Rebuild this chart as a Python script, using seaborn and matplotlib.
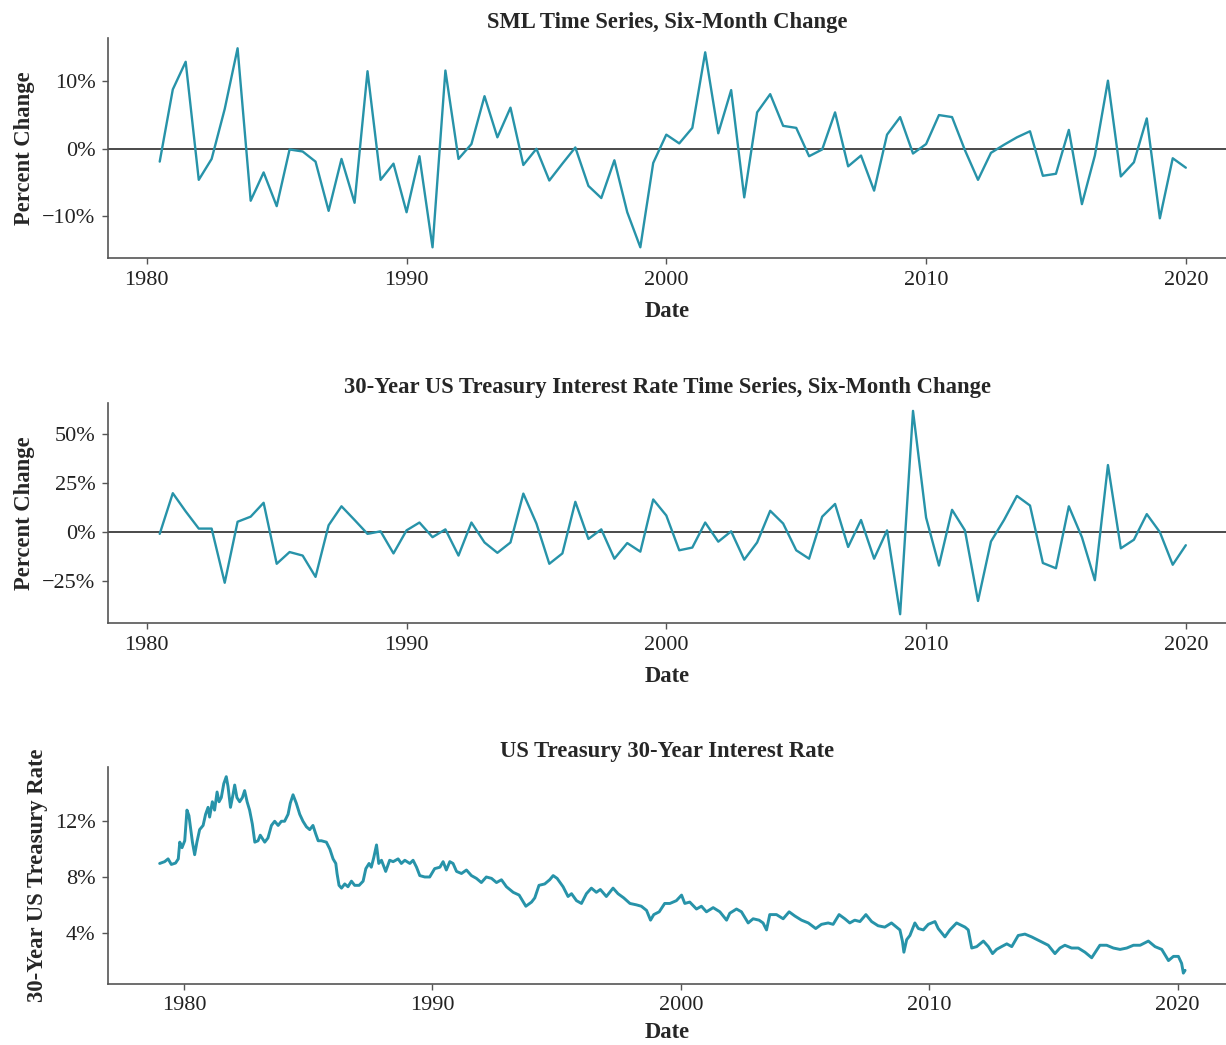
import matplotlib
matplotlib.use("Agg")
import matplotlib.pyplot as plt
import matplotlib.dates as mdates
from matplotlib.ticker import PercentFormatter, FixedLocator
import numpy as np
import pandas as pd
import seaborn as sns

# Semi-annual observation dates for the six-month change series
half_year_dates = pd.date_range("1980-07-01", "2020-01-01", freq="6MS")

# Six-month percent change of the SML factor
sml_change = [
    -1.9, 8.8, 12.9, -4.6, -1.5, 5.9, 14.9, -7.7, -3.5, -8.5,
    -0.1, -0.4, -1.9, -9.2, -1.5, -8.0, 11.5, -4.6, -2.2, -9.4,
    -1.1, -14.6, 11.6, -1.5, 0.7, 7.8, 1.7, 6.1, -2.4, 0.0,
    -4.7, -2.2, 0.2, -5.5, -7.3, -1.7, -9.4, -14.6, -2.1, 2.1,
    0.8, 3.1, 14.3, 2.3, 8.7, -7.2, 5.4, 8.1, 3.4, 3.1,
    -1.1, -0.1, 5.4, -2.6, -1.0, -6.2, 2.1, 4.7, -0.7, 0.7,
    5.0, 4.7, -0.2, -4.6, -0.6, 0.6, 1.7, 2.6, -4.0, -3.7,
    2.8, -8.2, -1.0, 10.1, -4.1, -2.0, 4.5, -10.3, -1.4, -2.8,
]

# Six-month percent change of the 30-year Treasury rate
treasury_change = [
    -0.9, 19.9, 10.6, 1.8, 1.8, -25.9, 5.3, 7.9, 15.0, -16.2,
    -10.2, -12.0, -22.9, 3.5, 13.2, 6.2, -0.9, 0.4, -10.9, 0.9,
    4.9, -2.6, 1.4, -12.0, 4.9, -5.3, -10.6, -5.3, 19.7, 4.4,
    -16.2, -10.9, 15.5, -3.5, 1.4, -13.6, -5.6, -10.0, 16.7, 8.5,
    -9.3, -7.9, 4.9, -4.9, 0.4, -14.1, -5.3, 10.9, 4.4, -9.3,
    -13.6, 7.9, 14.4, -7.6, 6.2, -13.6, 0.9, -42.0, 62.0, 7.4,
    -17.1, 11.4, 0.9, -35.2, -4.8, 6.2, 18.5, 13.6, -15.8, -18.5,
    13.2, -2.6, -24.6, 34.3, -8.3, -3.9, 9.2, 0.0, -16.7, -6.7,
]

# 30-year Treasury yield level (decimal year, percent)
rate_years = [
    1979.02, 1979.22, 1979.36, 1979.49, 1979.66, 1979.77, 1979.83, 1979.92, 1980.03, 1980.12,
    1980.20, 1980.34, 1980.43, 1980.52, 1980.63, 1980.77, 1980.87, 1980.97, 1981.03, 1981.14,
    1981.23, 1981.33, 1981.41, 1981.50, 1981.60, 1981.70, 1981.77, 1981.87, 1981.97, 1982.04,
    1982.13, 1982.24, 1982.35, 1982.44, 1982.54, 1982.64, 1982.75, 1982.85, 1982.98, 1983.07,
    1983.25, 1983.38, 1983.52, 1983.65, 1983.79, 1983.92, 1984.05, 1984.19, 1984.28, 1984.39,
    1984.52, 1984.66, 1984.79, 1984.93, 1985.06, 1985.19, 1985.30, 1985.40, 1985.53, 1985.73,
    1985.87, 1986.00, 1986.11, 1986.16, 1986.24, 1986.34, 1986.47, 1986.60, 1986.74, 1986.87,
    1987.05, 1987.21, 1987.32, 1987.45, 1987.54, 1987.64, 1987.75, 1987.84, 1987.95, 1988.12,
    1988.28, 1988.42, 1988.62, 1988.75, 1988.89, 1989.09, 1989.22, 1989.36, 1989.49, 1989.69,
    1989.89, 1990.09, 1990.30, 1990.43, 1990.56, 1990.70, 1990.83, 1990.97, 1991.17, 1991.37,
    1991.57, 1991.77, 1991.97, 1992.17, 1992.38, 1992.58, 1992.78, 1992.98, 1993.25, 1993.49,
    1993.76, 1993.99, 1994.12, 1994.29, 1994.52, 1994.72, 1994.86, 1995.02, 1995.26, 1995.46,
    1995.60, 1995.80, 1996.00, 1996.20, 1996.40, 1996.60, 1996.76, 1997.00, 1997.27, 1997.47,
    1997.70, 1997.95, 1998.21, 1998.41, 1998.62, 1998.78, 1998.91, 1999.13, 1999.35, 1999.56,
    1999.82, 2000.03, 2000.16, 2000.36, 2000.63, 2000.83, 2001.03, 2001.30, 2001.57, 2001.84,
    2001.97, 2002.24, 2002.44, 2002.71, 2002.91, 2003.15, 2003.31, 2003.45, 2003.58, 2003.85,
    2004.12, 2004.36, 2004.59, 2004.86, 2005.13, 2005.43, 2005.66, 2005.93, 2006.13, 2006.37,
    2006.60, 2006.80, 2007.00, 2007.21, 2007.45, 2007.68, 2007.94, 2008.21, 2008.48, 2008.68,
    2008.82, 2008.92, 2008.98, 2009.09, 2009.22, 2009.42, 2009.56, 2009.76, 2009.96, 2010.23,
    2010.36, 2010.63, 2010.83, 2011.10, 2011.44, 2011.57, 2011.71, 2011.91, 2012.18, 2012.38,
    2012.55, 2012.71, 2012.91, 2013.12, 2013.32, 2013.58, 2013.85, 2014.12, 2014.46, 2014.79,
    2015.06, 2015.26, 2015.46, 2015.73, 2016.00, 2016.27, 2016.54, 2016.87, 2017.14, 2017.41,
    2017.68, 2017.95, 2018.22, 2018.49, 2018.82, 2019.09, 2019.36, 2019.63, 2019.83, 2020.03,
    2020.16, 2020.23, 2020.30,
]
rate_values = [
    8.97, 9.1, 9.3, 8.9, 9.0, 9.3, 10.5, 10.1, 10.6, 12.8,
    12.4, 10.5, 9.6, 10.5, 11.4, 11.7, 12.5, 13.0, 12.3, 13.4,
    12.8, 14.1, 13.4, 13.7, 14.7, 15.2, 14.5, 13.0, 13.9, 14.6,
    13.7, 13.4, 13.7, 14.2, 13.4, 12.8, 11.8, 10.5, 10.6, 11.0,
    10.5, 10.8, 11.7, 12.0, 11.7, 12.0, 12.0, 12.5, 13.3, 13.9,
    13.3, 12.5, 12.0, 11.6, 11.4, 11.7, 11.1, 10.6, 10.6, 10.5,
    10.0, 9.3, 8.97, 8.25, 7.4, 7.2, 7.5, 7.3, 7.7, 7.4,
    7.4, 7.7, 8.6, 8.97, 8.7, 9.4, 10.3, 8.97, 9.2, 8.4,
    9.2, 9.1, 9.3, 8.97, 9.2, 8.97, 9.2, 8.7, 8.1, 8.0,
    8.0, 8.6, 8.7, 9.1, 8.5, 9.1, 8.97, 8.4, 8.25, 8.5,
    8.1, 7.9, 7.6, 8.0, 7.9, 7.6, 7.8, 7.3, 6.9, 6.7,
    5.9, 6.2, 6.5, 7.4, 7.5, 7.8, 8.1, 7.9, 7.3, 6.6,
    6.8, 6.3, 6.1, 6.8, 7.2, 6.9, 7.1, 6.6, 7.2, 6.8,
    6.5, 6.1, 6.0, 5.9, 5.6, 4.9, 5.3, 5.5, 6.1, 6.1,
    6.3, 6.7, 6.1, 6.2, 5.7, 5.9, 5.5, 5.8, 5.5, 4.9,
    5.4, 5.7, 5.5, 4.7, 5.0, 4.9, 4.7, 4.2, 5.3, 5.3,
    5.0, 5.5, 5.2, 4.9, 4.7, 4.3, 4.6, 4.7, 4.6, 5.3,
    5.0, 4.7, 4.9, 4.8, 5.3, 4.8, 4.5, 4.4, 4.7, 4.4,
    4.2, 3.4, 2.6, 3.5, 3.8, 4.7, 4.3, 4.2, 4.6, 4.8,
    4.3, 3.7, 4.2, 4.7, 4.4, 4.2, 2.9, 3.0, 3.4, 3.0,
    2.5, 2.8, 3.0, 3.2, 3.0, 3.8, 3.9, 3.7, 3.4, 3.1,
    2.5, 2.9, 3.1, 2.9, 2.9, 2.6, 2.2, 3.1, 3.1, 2.9,
    2.8, 2.9, 3.1, 3.1, 3.4, 3.0, 2.8, 2.0, 2.3, 2.3,
    1.8, 1.1, 1.3,
]


def decimal_year_to_date(values):
    out = []
    for v in values:
        year = int(np.floor(v))
        start = pd.Timestamp(year=year, month=1, day=1)
        out.append(start + pd.Timedelta(days=(v - year) * 365.25))
    return pd.DatetimeIndex(out)


rate_dates = decimal_year_to_date(rate_years)

sns.set_theme(style="ticks")
plt.rcParams["font.family"] = ["Liberation Serif", "DejaVu Serif"]
plt.rcParams["axes.unicode_minus"] = True

LINE = "#2793a9"
ZERO = "#3c3c3c"

fig = plt.figure(figsize=(12.26, 10.45), dpi=100)
ax1 = fig.add_axes([0.0881, 0.7530, 0.9119, 0.2105])
ax2 = fig.add_axes([0.0881, 0.4038, 0.9119, 0.2105])
ax3 = fig.add_axes([0.0881, 0.0584, 0.9119, 0.2077])

title_kw = dict(fontsize=16.3, fontweight="bold", pad=7)
label_kw = dict(fontsize=16.3, fontweight="bold")

# SML six-month change
sns.lineplot(x=half_year_dates, y=sml_change, ax=ax1, color=LINE, linewidth=1.7)
ax1.axhline(0, color=ZERO, linewidth=1.3, zorder=1)
ax1.set_title("SML Time Series, Six-Month Change", **title_kw)
ax1.set_ylabel("Percent Change", labelpad=5, **label_kw)
ax1.set_xlabel("Date", labelpad=8, **label_kw)
ax1.set_ylim(-16.2, 16.4)
ax1.yaxis.set_major_locator(FixedLocator([-10, 0, 10]))
ax1.yaxis.set_major_formatter(PercentFormatter(decimals=0))
ax1.set_xlim(pd.Timestamp("1978-07-05"), pd.Timestamp("2021-07-19"))

# Treasury rate six-month change
sns.lineplot(x=half_year_dates, y=treasury_change, ax=ax2, color=LINE, linewidth=1.7)
ax2.axhline(0, color=ZERO, linewidth=1.3, zorder=1)
ax2.set_title("30-Year US Treasury Interest Rate Time Series, Six-Month Change", **title_kw)
ax2.set_ylabel("Percent Change", labelpad=5, **label_kw)
ax2.set_xlabel("Date", labelpad=8, **label_kw)
ax2.set_ylim(-46.5, 66.0)
ax2.yaxis.set_major_locator(FixedLocator([-25, 0, 25, 50]))
ax2.yaxis.set_major_formatter(PercentFormatter(decimals=0))
ax2.set_xlim(pd.Timestamp("1978-07-05"), pd.Timestamp("2021-07-19"))

# Treasury rate level
sns.lineplot(x=rate_dates, y=rate_values, ax=ax3, color=LINE, linewidth=2.1)
ax3.set_title("US Treasury 30-Year Interest Rate", **title_kw)
ax3.set_ylabel("30-Year US Treasury Rate", labelpad=5, **label_kw)
ax3.set_xlabel("Date", labelpad=5, **label_kw)
ax3.set_ylim(0.32, 15.9)
ax3.yaxis.set_major_locator(FixedLocator([4, 8, 12]))
ax3.yaxis.set_major_formatter(PercentFormatter(decimals=0))
ax3.set_xlim(pd.Timestamp("1976-12-10"), pd.Timestamp("2021-12-12"))

for ax in (ax1, ax2, ax3):
    ax.xaxis.set_major_locator(mdates.YearLocator(10))
    ax.xaxis.set_major_formatter(mdates.DateFormatter("%Y"))
    ax.tick_params(axis="both", labelsize=16, length=4, width=1, pad=5,
                   colors="#555555", labelcolor="#222222")
    for side in ("left", "bottom"):
        ax.spines[side].set_color("#555555")
        ax.spines[side].set_linewidth(1.2)
    sns.despine(ax=ax)

fig.savefig("out.png", dpi=100)
